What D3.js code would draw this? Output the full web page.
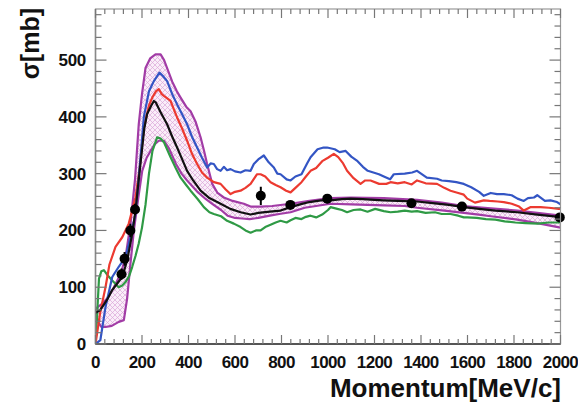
<!DOCTYPE html>
<html>
<head>
<meta charset="utf-8">
<script src="https://cdn.jsdelivr.net/npm/d3@7"></script>
<style>
  html, body { margin: 0; padding: 0; background: #fff; }
  svg { display: block; }
  text { font-family: "Liberation Sans", Arial, Helvetica, sans-serif; font-weight: bold; fill: #111; }
</style>
</head>
<body>
<svg id="chart" width="578" height="406"></svg>
<script>
// Momentum [MeV/c] vs cross section [mb]
const xTicks = [0, 200, 400, 600, 800, 1000, 1200, 1400, 1600, 1800, 2000];
const yTicks = [0, 100, 200, 300, 400, 500];

// Model band (upper / lower edges)
const bandUpper = [[0,62],[25,70],[50,80],[79,100],[110,125],[130,155],[150,210],[170,290],[186,387],[200,440],[215,486],[235,503],[258,510],[280,510],[295,500],[308,486],[330,462],[350,445],[366,434],[390,418],[409,410],[430,392],[452,364],[467,340],[480,317],[502,282],[525,266],[552,258],[590,252],[638,247],[667,242],[710,242],[760,243],[839,247],[920,252],[1011,257],[1100,258],[1240,257],[1383,254],[1489,249],[1584,243],[1700,239],[1814,235],[1900,231],[2000,226]];
const bandLower = [[0,48],[12,38],[25,30],[43,30],[70,32],[100,39],[122,42],[136,80],[150,140],[165,200],[185,260],[201,305],[220,328],[237,340],[255,352],[272,358],[294,358],[314,346],[346,317],[370,300],[394,288],[441,267],[475,255],[505,246],[540,236],[568,226],[600,222],[630,221],[663,220],[700,222],[750,226],[790,229],[839,232],[900,240],[1011,247],[1100,246],[1240,244],[1330,243],[1383,240],[1500,235],[1584,231],[1648,228],[1700,225],[1814,219],[1900,213],[2000,205]];

// Central model curve
const blackLine = [[0,55],[21,60],[50,78],[72,95],[100,110],[115,118],[136,147],[158,194],[172,235],[194,320],[210,380],[222,405],[240,420],[251,428],[260,425],[280,408],[308,387],[330,365],[351,346],[372,326],[394,305],[420,288],[452,270],[490,257],[538,247],[580,238],[624,232],[667,228],[700,231],[750,233],[796,235],[839,241],[880,246],[920,250],[970,253],[1011,253],[1060,255],[1097,256],[1150,255],[1200,254],[1240,253],[1300,252],[1383,251],[1450,248],[1520,245],[1584,241],[1650,238],[1720,235],[1814,232],[1900,228],[1993,224],[2000,224]];

const blueLine = [[0,0],[21,7],[43,65],[72,118],[100,136],[129,153],[150,188],[172,229],[194,330],[208,400],[230,445],[251,463],[275,478],[290,472],[308,463],[330,440],[351,422],[372,405],[394,387],[415,365],[437,346],[458,328],[480,311],[495,318],[509,317],[523,308],[538,305],[552,312],[566,306],[581,308],[600,304],[624,302],[645,306],[667,305],[681,317],[700,325],[724,332],[745,320],[767,311],[782,300],[796,299],[822,290],[839,288],[860,295],[886,299],[910,318],[925,329],[955,343],[981,346],[996,346],[1029,343],[1050,338],[1076,340],[1100,330],[1124,323],[1150,312],[1171,305],[1195,302],[1219,299],[1245,294],[1267,290],[1283,299],[1330,300],[1362,302],[1383,305],[1425,293],[1469,291],[1489,288],[1520,287],[1552,285],[1584,282],[1616,276],[1650,268],[1670,261],[1700,266],[1727,264],[1756,264],[1790,262],[1815,256],[1842,252],[1860,257],[1886,258],[1900,262],[1933,252],[1957,253],[1985,250],[2000,246]];

const redLine = [[0,0],[20,55],[43,100],[60,140],[86,171],[115,188],[143,212],[172,258],[190,310],[208,381],[230,420],[244,434],[260,445],[272,449],[285,440],[294,437],[310,432],[323,428],[340,410],[351,399],[372,380],[394,358],[415,335],[437,317],[458,302],[480,293],[509,285],[538,282],[560,272],[581,264],[600,268],[624,270],[645,275],[667,282],[695,299],[710,299],[730,295],[753,285],[775,280],[796,276],[820,270],[839,267],[860,275],[886,285],[905,295],[925,305],[949,310],[975,322],[1000,328],[1025,335],[1044,329],[1065,318],[1082,305],[1110,292],[1140,282],[1160,288],[1183,288],[1220,282],[1251,282],[1269,285],[1300,283],[1330,285],[1360,281],[1383,288],[1420,283],[1469,282],[1500,275],[1527,270],[1560,266],[1584,263],[1599,256],[1632,249],[1670,253],[1695,252],[1730,251],[1756,250],[1790,247],[1822,242],[1842,235],[1870,241],[1914,241],[1950,240],[1993,238],[2000,238]];

const greenLine = [[0,0],[8,60],[15,115],[25,128],[36,130],[50,122],[72,112],[100,100],[115,103],[129,109],[145,120],[158,136],[172,155],[186,177],[200,205],[215,245],[230,300],[245,340],[265,364],[280,362],[295,355],[323,329],[345,310],[366,293],[390,280],[409,270],[440,255],[466,241],[490,232],[509,229],[540,225],[566,217],[595,212],[624,206],[645,200],[667,196],[690,200],[710,200],[730,206],[753,210],[775,214],[796,217],[822,214],[839,218],[860,222],[886,220],[905,224],[925,226],[949,223],[975,228],[1000,236],[1011,241],[1040,238],[1060,236],[1082,232],[1110,236],[1140,237],[1170,233],[1203,238],[1240,234],[1269,232],[1300,233],[1330,235],[1360,233],[1383,234],[1420,231],[1460,232],[1489,229],[1527,229],[1560,226],[1584,223],[1599,223],[1640,222],[1679,220],[1720,219],[1760,216],[1806,214],[1850,213],[1902,212],[1950,214],[2000,214]];

// Measurements
const dataP   = [112, 125, 150, 170, 711, 838, 997, 1359, 1576, 1997];
const dataSig = [123, 150, 200, 237, 261, 245, 256, 248, 242, 223];
const dataErr = [10, 12, 12, 10, 16, 6, 8, 7, 7, 6];

const svg = d3.select("#chart");
const x = d3.scaleLinear().domain([0, 2000]).range([95.5, 560.5]);
const y = d3.scaleLinear().domain([0, 590]).range([344, 9]);

// cross-hatch pattern for the band
const defs = svg.append("defs");
const pat = defs.append("pattern")
  .attr("id", "hatch").attr("patternUnits", "userSpaceOnUse")
  .attr("width", 5).attr("height", 5);
pat.append("rect").attr("width", 5).attr("height", 5).attr("fill", "#faeef9");
pat.append("path").attr("d", "M0,0 L5,5 M5,0 L0,5")
  .attr("stroke", "#dba6d8").attr("stroke-width", 0.7);

const clip = defs.append("clipPath").attr("id", "plotClip");
clip.append("rect").attr("x", x(0)).attr("y", y(590)).attr("width", x(2000) - x(0)).attr("height", y(0) - y(590));

const line = d3.line().x(d => x(d[0])).y(d => y(d[1]));

const plot = svg.append("g").attr("clip-path", "url(#plotClip)");

// band
plot.append("path")
  .attr("d", line(bandUpper.concat(bandLower.slice().reverse())) + "Z")
  .attr("fill", "url(#hatch)").attr("stroke", "none");
[bandUpper, bandLower].forEach(b => {
  plot.append("path").attr("d", line(b))
    .attr("fill", "none").attr("stroke", "#a23ca6").attr("stroke-width", 2.2)
    .attr("stroke-linejoin", "round");
});

const series = [
  { data: greenLine, color: "#2f9a45" },
  { data: redLine, color: "#ec3a30" },
  { data: blueLine, color: "#3355c4" },
  { data: blackLine, color: "#111111" }
];
series.forEach(s => {
  plot.append("path").attr("d", line(s.data))
    .attr("fill", "none").attr("stroke", s.color).attr("stroke-width", 2.2)
    .attr("stroke-linejoin", "round");
});

// measurements
const pts = dataP.map((p, i) => ({ p, s: dataSig[i], e: dataErr[i] }));
plot.selectAll(".err").data(pts).enter().append("line")
  .attr("x1", d => x(d.p)).attr("x2", d => x(d.p))
  .attr("y1", d => y(d.s - d.e)).attr("y2", d => y(d.s + d.e))
  .attr("stroke", "#000").attr("stroke-width", 2);
svg.selectAll(".pt").data(pts).enter().append("circle")
  .attr("cx", d => x(d.p)).attr("cy", d => y(d.s)).attr("r", 5)
  .attr("fill", "#000");

// frame and ticks
const axisCol = "#555";
svg.append("rect").attr("x", x(0)).attr("y", y(590))
  .attr("width", x(2000) - x(0)).attr("height", y(0) - y(590))
  .attr("fill", "none").attr("stroke", "#999").attr("stroke-width", 1.2);
svg.append("line").attr("x1", x(0)).attr("x2", x(2000)).attr("y1", y(0)).attr("y2", y(0))
  .attr("stroke", axisCol).attr("stroke-width", 2);
svg.append("line").attr("x1", x(0)).attr("x2", x(0)).attr("y1", y(0)).attr("y2", y(590))
  .attr("stroke", "#888").attr("stroke-width", 1.5);

const xMinor = d3.range(0, 2001, 40);
const yMinor = d3.range(0, 591, 20);
const tg = svg.append("g").attr("stroke", "#777").attr("stroke-width", 1.2);
xMinor.forEach(v => {
  const major = v % 200 === 0;
  const L = major ? 9 : 5;
  tg.append("line").attr("x1", x(v)).attr("x2", x(v)).attr("y1", y(0)).attr("y2", y(0) - L);
  tg.append("line").attr("x1", x(v)).attr("x2", x(v)).attr("y1", y(590)).attr("y2", y(590) + L);
});
yMinor.forEach(v => {
  const major = v % 100 === 0;
  const L = major ? 11 : 6;
  tg.append("line").attr("x1", x(0)).attr("x2", x(0) + L).attr("y1", y(v)).attr("y2", y(v));
  tg.append("line").attr("x1", x(2000)).attr("x2", x(2000) - L).attr("y1", y(v)).attr("y2", y(v));
});

// tick labels
svg.append("g").selectAll("text").data(xTicks).enter().append("text")
  .attr("x", d => x(d)).attr("y", 368).attr("text-anchor", "middle")
  .attr("font-size", 17).attr("letter-spacing", -0.6).text(d => d);
svg.append("g").selectAll("text").data(yTicks).enter().append("text")
  .attr("x", 86).attr("y", d => y(d) + 6).attr("text-anchor", "end")
  .attr("font-size", 17).attr("letter-spacing", -0.3).text(d => d);

// axis titles
svg.append("text").attr("x", 561).attr("y", 397).attr("text-anchor", "end")
  .attr("font-size", 26).text("Momentum[MeV/c]");
svg.append("text").attr("transform", "translate(39,8) rotate(-90)")
  .attr("text-anchor", "end").attr("font-size", 25).text("σ[mb]");
</script>
</body>
</html>
